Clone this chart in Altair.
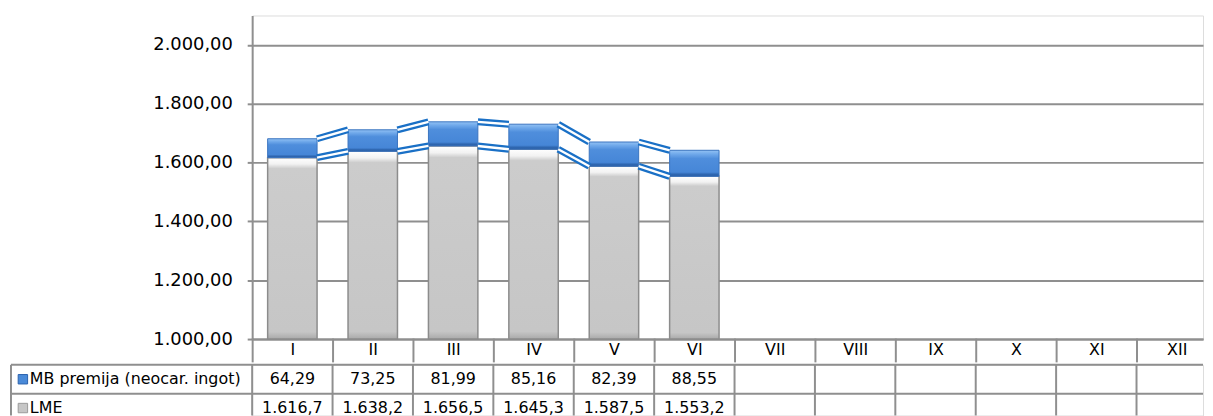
import json
import altair as alt
import pandas as pd

# ---- data ----
months = ["I", "II", "III", "IV", "V", "VI", "VII", "VIII", "IX", "X", "XI", "XII"]
lme = [1616.7, 1638.2, 1656.5, 1645.3, 1587.5, 1553.2]
mb_premija = [64.29, 73.25, 81.99, 85.16, 82.39, 88.55]
series_names = ["MB premija (neocar. ingot)", "LME"]
y_ticks = [1000, 1200, 1400, 1600, 1800, 2000]
Y_MIN, Y_MAX = 1000, 2100

# ---- style / layout ----
FONT = "DejaVu Sans"
COL_W = 81                      # pixel width of one month column
PLOT_W = 958                    # visible part of the plot (reference is cropped on the right)
PLOT_H = 326
ROW_H = 29
TABLE_H = 51                    # visible part of the table (reference is cropped at the bottom)
BAR_W = 49.8
HALF_BAR = BAR_W / 2
LABEL_SPAN = 3                  # label column of the table spans 3 month columns
X_MAX = PLOT_W / COL_W
T_MAX = TABLE_H / ROW_H
GRID = "#8f8f8f"
LINE_BLUE = "#1a70c6"

n = len(lme)
idx = list(range(len(months)))
bars = pd.DataFrame({"month": months[:n], "xc": [i + 0.5 for i in range(n)],
                     "lme": lme, "mb": mb_premija})
bars["total"] = bars["lme"] + bars["mb"]
bars["base"] = Y_MIN

segs = []
for i in range(n - 1):
    for key in ["total", "lme"]:
        segs.append({"x1": i + 0.5, "x2": i + 1.5,
                     "v1": float(bars[key][i]), "v2": float(bars[key][i + 1])})
segs = pd.DataFrame(segs)

xscale = alt.Scale(domain=[0, X_MAX], nice=False, zero=False, padding=0)
yscale = alt.Scale(domain=[Y_MIN, Y_MAX], nice=False, zero=False, padding=0)

x_axis = alt.Axis(title=None, values=idx, labelExpr=f"{json.dumps(months)}[datum.value]",
                  labelOffset=COL_W / 2, labelAngle=0, labelAlign="center",
                  labelFlush=False, labelOverlap=False, labelBound=False,
                  domain=True, domainColor=GRID, domainWidth=2,
                  ticks=True, tickSize=22, tickColor=GRID, tickWidth=2, tickCap="square",
                  labelFont=FONT, labelFontSize=16, labelColor="black",
                  labelPadding=-11, labelBaseline="middle", grid=False)
y_axis = alt.Axis(title=None, values=y_ticks, format=",.2f", grid=True, gridColor=GRID,
                  gridWidth=2, domainColor=GRID, domainWidth=2, tickColor=GRID, tickWidth=2,
                  tickSize=5, labelPadding=15, labelFont=FONT, labelFontSize=18,
                  labelColor="black")

gray_grad = alt.LinearGradient(gradient="linear", x1=0, x2=0, y1=0, y2=1, stops=[
    alt.GradientStop(color="#ffffff", offset=0),
    alt.GradientStop(color="#f2f2f2", offset=0.035),
    alt.GradientStop(color="#cccccc", offset=0.06),
    alt.GradientStop(color="#c6c6c6", offset=0.96),
    alt.GradientStop(color="#a9a9a9", offset=1)])
blue_grad = alt.LinearGradient(gradient="linear", x1=0, x2=0, y1=0, y2=1, stops=[
    alt.GradientStop(color="#93c2f4", offset=0),
    alt.GradientStop(color="#6fa8ea", offset=0.15),
    alt.GradientStop(color="#4f8edc", offset=0.32),
    alt.GradientStop(color="#4686d7", offset=0.84),
    alt.GradientStop(color="#2f67b1", offset=0.92),
    alt.GradientStop(color="#2a5ea5", offset=1)])

X = alt.X("xc:Q", scale=xscale, axis=x_axis)
XS = alt.X("x1:Q", scale=xscale, axis=x_axis)

gray = alt.Chart(bars).mark_bar(width=BAR_W, fill=gray_grad, orient="vertical",
                                stroke="#8c8c8c", strokeWidth=1.5).encode(
    x=X, y=alt.Y("lme:Q", scale=yscale, axis=y_axis), y2="base:Q")
blue = alt.Chart(bars).mark_bar(width=BAR_W, fill=blue_grad, orient="vertical",
                                stroke="#3a74c0", strokeWidth=1).encode(
    x=X, y=alt.Y("total:Q", scale=yscale, axis=y_axis), y2="lme:Q")
line_outer = alt.Chart(segs).mark_rule(color=LINE_BLUE, strokeWidth=7,
                                       xOffset=HALF_BAR, x2Offset=-HALF_BAR).encode(
    x=XS, x2="x2:Q", y=alt.Y("v1:Q", scale=yscale, axis=y_axis), y2="v2:Q")
line_inner = alt.Chart(segs).mark_rule(color="white", strokeWidth=2.4,
                                       xOffset=HALF_BAR, x2Offset=-HALF_BAR).encode(
    x=XS, x2="x2:Q", y=alt.Y("v1:Q", scale=yscale, axis=y_axis), y2="v2:Q")

top = alt.layer(gray, blue, line_outer, line_inner).properties(width=PLOT_W, height=PLOT_H)

# ---- data table (rows: 0 = MB premija, 1 = LME) ----
tx = alt.Scale(domain=[0, X_MAX], nice=False, zero=False, padding=0)
ty = alt.Scale(domain=[0, T_MAX], nice=False, zero=False, padding=0, reverse=True)

h_lines = pd.DataFrame({"r": list(range(len(series_names))),
                        "xa": -LABEL_SPAN, "xb": X_MAX})
v_lines = pd.DataFrame({"c": [-LABEL_SPAN] + idx, "ya": 0, "yb": T_MAX})
row_info = pd.DataFrame({"row": series_names, "r": [k + 0.5 for k in range(len(series_names))],
                         "c": -LABEL_SPAN})
vals_mb = pd.DataFrame({"cm": [j + 0.5 for j in range(n)], "r": 0.5, "v": mb_premija})
vals_lme = pd.DataFrame({"cm": [j + 0.5 for j in range(n)], "r": 1.5, "v": lme})

hl = alt.Chart(h_lines).mark_rule(color=GRID, strokeWidth=2).encode(
    x=alt.X("xa:Q", scale=tx, axis=None), x2="xb:Q",
    y=alt.Y("r:Q", scale=ty, axis=None))
vl = alt.Chart(v_lines).mark_rule(color=GRID, strokeWidth=2).encode(
    x=alt.X("c:Q", scale=tx, axis=None),
    y=alt.Y("ya:Q", scale=ty, axis=None), y2="yb:Q")
t_mb = alt.Chart(vals_mb).mark_text(font=FONT, fontSize=16, color="black").encode(
    x=alt.X("cm:Q", scale=tx, axis=None), y=alt.Y("r:Q", scale=ty, axis=None),
    text=alt.Text("v:Q", format=",.2f"))
t_lme = alt.Chart(vals_lme).mark_text(font=FONT, fontSize=16, color="black").encode(
    x=alt.X("cm:Q", scale=tx, axis=None), y=alt.Y("r:Q", scale=ty, axis=None),
    text=alt.Text("v:Q", format=",.1f"))
labels = alt.Chart(row_info).mark_text(font=FONT, fontSize=16, color="black",
                                       align="left", dx=19).encode(
    x=alt.X("c:Q", scale=tx, axis=None), y=alt.Y("r:Q", scale=ty, axis=None),
    text="row:N")
symbols = alt.Chart(row_info).mark_square(size=90, xOffset=12, opacity=1,
                                          strokeWidth=1).encode(
    x=alt.X("c:Q", scale=tx, axis=None), y=alt.Y("r:Q", scale=ty, axis=None),
    fill=alt.Fill("row:N", scale=alt.Scale(domain=series_names,
                                            range=["#4a8ad8", "#c6c6c6"]), legend=None),
    stroke=alt.Stroke("row:N", scale=alt.Scale(domain=series_names,
                                                range=["#2a62ad", "#9a9a9a"]), legend=None))

table = alt.layer(hl, vl, t_mb, t_lme, labels, symbols).properties(
    width=PLOT_W, height=TABLE_H)

chart = alt.vconcat(top, table, spacing=0).properties(
    padding={"left": 1, "top": 5, "right": 0, "bottom": 0}
).configure_view(strokeWidth=0).configure(
    locale={"number": {"decimal": ",", "thousands": ".", "grouping": [3],
                       "currency": ["", " €"]}})

chart.save("out.html", embed_options={"renderer": "svg", "actions": False})
